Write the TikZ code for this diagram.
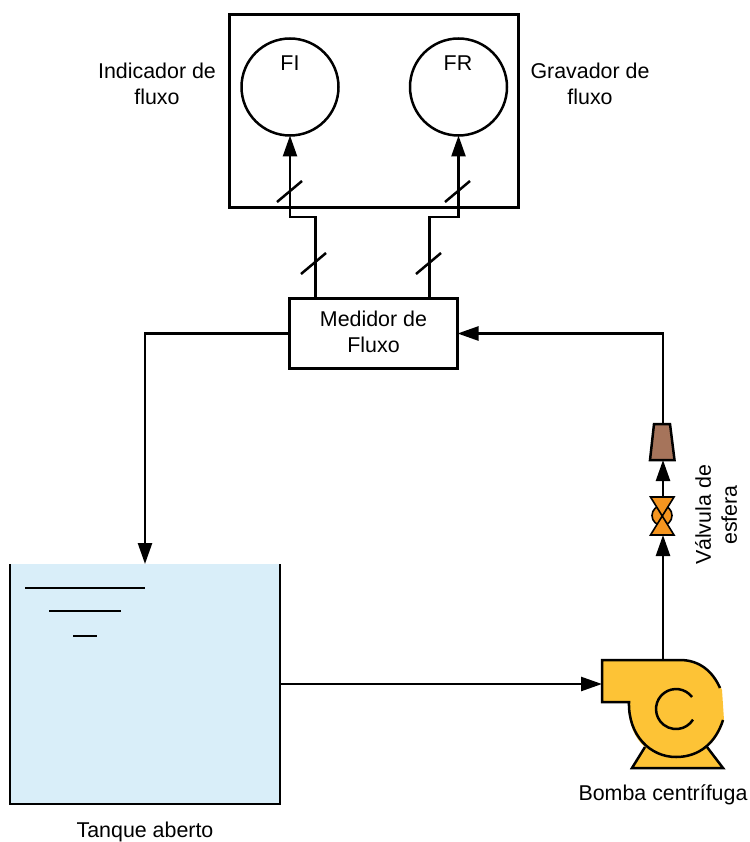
\documentclass[tikz,border=0pt]{standalone}
\usepackage{fontspec}
\setmainfont{Liberation Sans}
\usetikzlibrary{arrows.meta,calc}
\definecolor{tankfill}{HTML}{D9EEF9}
\definecolor{pumpfill}{HTML}{FDC336}
\definecolor{valvefill}{HTML}{F5951F}
\definecolor{reducerfill}{HTML}{A6745B}
\tikzset{
 ln/.style={line width=2.5pt,black},
 flow/.style={ln,-{Triangle[length=21pt,width=14pt]}},
 txt/.style={font=\fontsize{21.4pt}{26pt}\selectfont,align=center,text=black,inner sep=0pt},
 inst/.style={draw,ln,circle,minimum size=97pt,inner sep=0pt,outer sep=0pt},
 boxnode/.style={draw,ln,rectangle,inner sep=0pt,outer sep=0pt,anchor=north west},
 slashmark/.style={line width=2.5pt,black},
}
\begin{document}
\begin{tikzpicture}[x=1pt,y=-1pt]
\useasboundingbox (0,0) rectangle (749,842);
% panel
\node[boxnode,minimum width=289pt,minimum height=193pt] (panel) at (229.5,14.5) {};
\node[inst] (fi) at (290,87) {};
\node[inst] (fr) at (458.5,87) {};
\node[txt] at (290,63) {FI};
\node[txt] at (458,63) {FR};
\node[txt] (lfi) at (157,84) {Indicador de\\fluxo};
\node[txt] (lfr) at (590,84) {Gravador de\\fluxo};
% flow meter
\node[boxnode,minimum width=168pt,minimum height=70pt,align=center] (fm) at (289.5,298.5) {};
\node[txt] at (373.5,332) {Medidor de\\Fluxo};
% tank
\fill[tankfill] (10,564) rectangle (280,804);
\draw[ln] (10,564) -- (10,804) -- (280,804) -- (280,564);
\coordinate (tankin) at (145,564);
\coordinate (tankout) at (280,684);
\draw[ln] (25,588) -- (145,588);
\draw[ln] (49,611) -- (121,611);
\draw[ln] (73,636) -- (97,636);
\node[txt] (ltank) at (145,832) {Tanque aberto};
% pump
\fill[pumpfill] (602,660) -- (680,660) .. controls (700,660) and (714,672) .. (722,690) -- (724,720) .. controls (722,728) and (716,740) .. (707,747) -- (723,768) -- (632,768) -- (645,747) .. controls (634,738) and (628,722) .. (628,702) -- (602,702) -- cycle;
\draw[ln] (645,747) -- (632,768) -- (723,768) -- (707,747);
\draw[ln] (720,688) .. controls (713,672) and (700,660) .. (680,660) -- (602,660) -- (602,702) -- (629,702) .. controls (628,735) and (650,757) .. (676,757) .. controls (700,757) and (716,742) .. (723,720);
\draw[ln] (692,697) arc[start angle=-37,end angle=-328,radius=20];
\coordinate (pumpin) at (602,684);
\coordinate (pumpout) at (663,660);
\node[txt] (lpump) at (663,795) {Bomba centrífuga};
% valve
\draw[ln,fill=valvefill,line width=1.6pt] (662,515.5) circle[radius=10];
\draw[ln,fill=valvefill,line width=1.6pt] (650.5,497) -- (674,497) -- (650.5,535) -- (674,535) -- cycle;
\coordinate (valvein) at (663,535);
\coordinate (valveout) at (663,497);
\node[txt,rotate=90] (lvalve) at (716,515) {Válvula de\\esfera};
% reducer
\draw[ln,fill=reducerfill] (654,424) -- (670,424) -- (674.5,460) -- (650,460) -- cycle;
\coordinate (redin) at (663,460);
\coordinate (redout) at (663,424);
% connectors
\draw[flow] (tankout) -- (pumpin);
\draw[flow] (pumpout) -- (valvein);
\draw[flow] (valveout) -- (redin);
\draw[flow] (redout) |- ($(fm.north east)+(0,35)$);
\draw[flow] ($(fm.north west)+(0,35)$) -| (tankin);
\draw[flow] ($(fm.north west)+(26,0)$) |- (290,217) -- (fi.south);
\draw[flow] ($(fm.north east)+(-28,0)$) |- (458.5,217) -- (fr.south);
% slash marks
\draw[slashmark] (277,202) -- (302,181);
\draw[slashmark] (445,202) -- (470,181);
\draw[slashmark] (301,274) -- (326,253);
\draw[slashmark] (416,274) -- (441,253);
\end{tikzpicture}
\end{document}
